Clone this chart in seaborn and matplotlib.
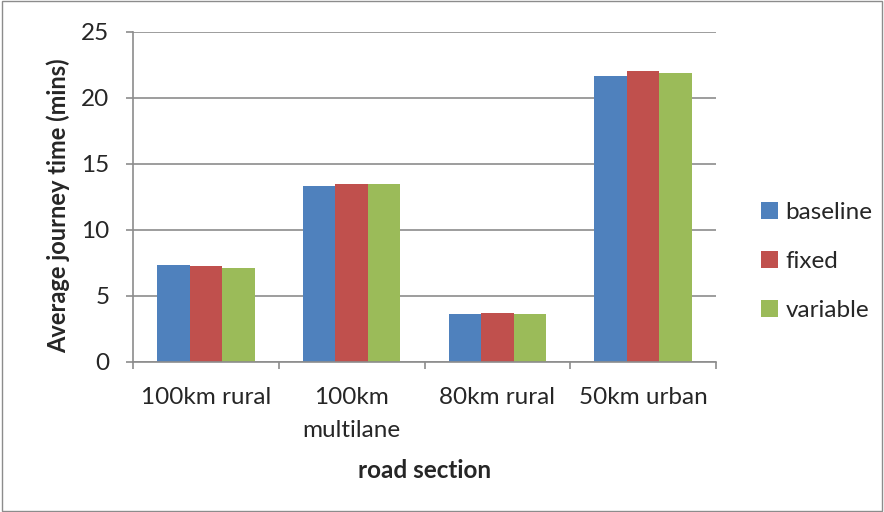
import pandas as pd
import numpy as np
import matplotlib.pyplot as plt
import seaborn as sns
from matplotlib.ticker import FixedLocator

sections = ['100km rural', '100km\nmultilane', '80km rural', '50km urban']
baseline = [7.33, 13.36, 3.62, 21.64]
fixed = [7.28, 13.46, 3.69, 22.08]
variable = [7.15, 13.46, 3.66, 21.92]

series = ['baseline', 'fixed', 'variable']
colors = ['#4f81bd', '#c0504d', '#9bbb59']

df = pd.DataFrame({
    'section': sections * 3,
    'scenario': [s for s in series for _ in sections],
    'time': baseline + fixed + variable,
})

sns.set_style('white')
plt.rcParams['font.family'] = ['Lato', 'DejaVu Sans']

fig = plt.figure(figsize=(8.84, 5.12), dpi=100)
ax = fig.add_axes([133 / 884, 1 - 362 / 512, 583 / 884, 330 / 512])

sns.barplot(data=df, x='section', y='time', hue='scenario', palette=colors,
            width=0.67, gap=0, saturation=1, ax=ax, edgecolor='none')

fs = 17.5
ax.set_ylim(0, 25)
ax.set_xlim(-0.5, 3.5)
ax.set_yticks(range(0, 26, 5))
ax.yaxis.grid(True, color='#8c8c8c', linewidth=1.2)
ax.set_axisbelow(True)
for side in ['top', 'right']:
    ax.spines[side].set_visible(False)
for side in ['left', 'bottom']:
    ax.spines[side].set_color('#8c8c8c')
    ax.spines[side].set_linewidth(1.2)

ax.tick_params(axis='y', which='major', length=5, width=1.2, color='#8c8c8c',
               labelsize=fs, pad=12, left=True)
ax.tick_params(axis='x', which='major', length=0, labelsize=fs, pad=18)
for lbl in ax.get_xticklabels():
    lbl.set_linespacing(1.7)
ax.xaxis.set_minor_locator(FixedLocator([-0.5, 0.5, 1.5, 2.5, 3.5]))
ax.tick_params(axis='x', which='minor', length=5, width=1.2, color='#8c8c8c', bottom=True)

ax.set_xlabel('road section', fontsize=fs, fontweight='bold', va='top')
ax.set_ylabel('Average journey time (mins)', fontsize=17, fontweight='bold')
ax.xaxis.set_label_coords(0.5, -0.293)
ax.yaxis.set_label_coords(-0.108, 0.475)

ax.legend(title=None, loc='center left', bbox_to_anchor=(1.04, 0.305), frameon=False,
          fontsize=fs, handlelength=0.7, handleheight=0.7, labelspacing=1.15,
          handletextpad=0.3)

fig.patches.append(plt.Rectangle((0.002, 0.002), 0.996, 0.996, transform=fig.transFigure,
                                 fill=False, edgecolor='#8c8c8c', linewidth=1))

fig.savefig('out.png', dpi=100)
